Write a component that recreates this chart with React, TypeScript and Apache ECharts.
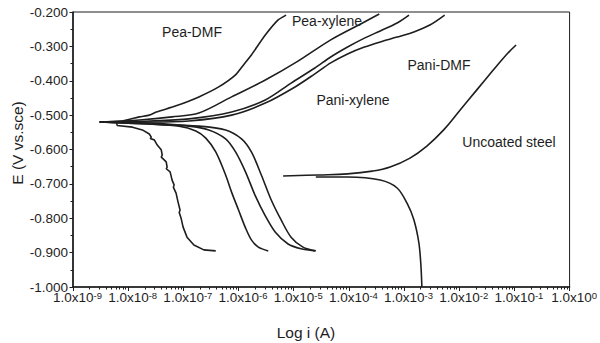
import React, { useEffect, useRef } from "react";
import * as echarts from "echarts";

// log10(i / A) and E (V vs. SCE)
const peaDmfAnodicLogI = [-8.515, -8.1, -7.796, -7.62, -7.491, -7.132, -6.719, -6.359, -6.054, -5.9, -5.767, -5.515, -5.282, -5.138];
const peaDmfAnodicE = [-0.52, -0.517, -0.505, -0.5, -0.491, -0.473, -0.447, -0.418, -0.383, -0.352, -0.325, -0.267, -0.223, -0.209];
const peaDmfCathodicLogI = [-8.515, -8.21, -8.2, -7.922, -7.743, -7.617, -7.581, -7.6, -7.527, -7.473, -7.401, -7.383, -7.4, -7.311, -7.294, -7.31, -7.24, -7.204, -7.168, -7.18, -7.132, -7.096, -7.06, -7.075, -7.042, -7.006, -6.934, -6.809, -6.629, -6.413];
const peaDmfCathodicE = [-0.52, -0.521, -0.53, -0.535, -0.543, -0.555, -0.564, -0.568, -0.572, -0.587, -0.601, -0.616, -0.622, -0.636, -0.651, -0.656, -0.665, -0.689, -0.703, -0.71, -0.727, -0.753, -0.776, -0.783, -0.799, -0.825, -0.855, -0.878, -0.892, -0.895];

const peaXyleneAnodicLogI = [-8.515, -7.796, -7.204, -6.719, -6.126, -5.515, -4.922, -4.329, -3.719, -3.449];
const peaXyleneAnodicE = [-0.52, -0.514, -0.505, -0.494, -0.447, -0.398, -0.343, -0.281, -0.229, -0.206];
const peaXyleneCathodicLogI = [-8.515, -7.617, -7.078, -6.773, -6.593, -6.413, -6.234, -6.126, -6.0, -5.874, -5.767, -5.641, -5.461];
const peaXyleneCathodicE = [-0.52, -0.526, -0.532, -0.546, -0.567, -0.607, -0.674, -0.724, -0.776, -0.828, -0.863, -0.884, -0.895];

const paniXyleneAnodicLogI = [-8.515, -7.617, -6.898, -6.126, -5.515, -5.048, -4.617, -4.329, -4.024, -3.719, -3.431, -3.126, -2.91];
const paniXyleneAnodicE = [-0.52, -0.517, -0.511, -0.491, -0.456, -0.407, -0.363, -0.331, -0.302, -0.276, -0.255, -0.232, -0.209];
const paniXyleneCathodicLogI = [-8.515, -7.617, -6.898, -6.539, -6.234, -6.054, -5.874, -5.695, -5.515, -5.336, -5.102, -4.868, -4.617];
const paniXyleneCathodicE = [-0.52, -0.523, -0.532, -0.543, -0.569, -0.607, -0.665, -0.735, -0.793, -0.84, -0.875, -0.889, -0.895];

const paniDmfAnodicLogI = [-8.515, -7.617, -6.898, -6.126, -5.515, -4.976, -4.617, -4.329, -4.024, -3.719, -3.431, -3.126, -2.821, -2.533, -2.264];
const paniDmfAnodicE = [-0.52, -0.52, -0.517, -0.5, -0.465, -0.418, -0.38, -0.348, -0.322, -0.302, -0.287, -0.273, -0.258, -0.238, -0.209];
const paniDmfCathodicLogI = [-8.515, -7.617, -6.719, -6.234, -5.946, -5.767, -5.587, -5.407, -5.228, -5.048, -4.832, -4.599];
const paniDmfCathodicE = [-0.52, -0.526, -0.532, -0.543, -0.569, -0.607, -0.674, -0.747, -0.805, -0.855, -0.884, -0.895];

const steelAnodicLogI = [-5.192, -4.563, -4.024, -3.575, -3.252, -2.893, -2.587, -2.282, -1.994, -1.689, -1.384, -1.15, -0.97];
const steelAnodicE = [-0.677, -0.674, -0.671, -0.663, -0.651, -0.625, -0.59, -0.543, -0.487, -0.428, -0.369, -0.325, -0.296];
const steelCathodicLogI = [-4.599, -4.024, -3.431, -3.126, -2.946, -2.821, -2.731, -2.695, -2.677];
const steelCathodicE = [-0.68, -0.68, -0.689, -0.712, -0.756, -0.805, -0.872, -0.936, -1.0];

// axis ticks (decades of i)
const xDecades = [-9, -8, -7, -6, -5, -4, -3, -2, -1, 0];
const yMin = -1.0;
const yMax = -0.2;
const yStep = 0.1;

const curveLabels = ["Pea-DMF", "Pea-xylene", "Pani-DMF", "Pani-xylene", "Uncoated steel"];

const INK = "#1e1e1e";
const FONT = "Liberation Sans, Arial, sans-serif";

function zip(xs: number[], ys: number[]) {
  return xs.map((x, i) => [x, ys[i]]);
}

// minor ticks of a log axis: log10(k * 10^n), k = 2..9
const minorTickValues: number[] = [];
for (let d = 0; d < xDecades.length - 1; d++) {
  for (let k = 2; k <= 9; k++) minorTickValues.push(xDecades[d] + Math.log10(k));
}

export default function App() {
  const ref = useRef<HTMLDivElement>(null);
  useEffect(() => {
    if (!ref.current) return;
    const chart = echarts.init(ref.current, null, { renderer: "svg" });
    const branches: [number[], number[], number | false][] = [
      [peaDmfAnodicLogI, peaDmfAnodicE, 0.2],
      [peaDmfCathodicLogI, peaDmfCathodicE, false],
      [peaXyleneAnodicLogI, peaXyleneAnodicE, 0.3],
      [peaXyleneCathodicLogI, peaXyleneCathodicE, 0.3],
      [paniXyleneAnodicLogI, paniXyleneAnodicE, 0.3],
      [paniXyleneCathodicLogI, paniXyleneCathodicE, 0.3],
      [paniDmfAnodicLogI, paniDmfAnodicE, 0.3],
      [paniDmfCathodicLogI, paniDmfCathodicE, 0.3],
      [steelAnodicLogI, steelAnodicE, 0.4],
      [steelCathodicLogI, steelCathodicE, 0.3],
    ];
    const labelPos: [number, number][] = [
      [192, 32],
      [327, 21],
      [439, 65],
      [353, 100],
      [509, 142],
    ];
    chart.setOption({
      animation: false,
      grid: {
        left: 73,
        right: 26,
        top: 12,
        bottom: 56,
        show: true,
        borderColor: INK,
        borderWidth: 1,
        backgroundColor: "transparent",
      },
      xAxis: [
        {
          type: "value",
          min: -9,
          max: 0,
          interval: 1,
          position: "bottom",
          axisLine: { onZero: false, lineStyle: { color: INK, width: 1.6 } },
          axisTick: { show: true, inside: false, length: 4, lineStyle: { color: INK, width: 1 } },
          splitLine: { show: false },
          axisLabel: {
            margin: 3.5,
            padding: [0, 0, 0, 9],
            formatter: (v: number) => `{b|1.0x10}{s|${Math.round(v)}}`,
            rich: {
              b: { fontSize: 13.5, color: INK, fontFamily: FONT, lineHeight: 14 },
              s: { fontSize: 9.5, color: INK, fontFamily: FONT, lineHeight: 6, verticalAlign: "top" },
            },
          },
        },
        {
          type: "value",
          min: -9,
          max: 0,
          position: "bottom",
          axisLine: { show: false },
          axisTick: { show: true, inside: false, length: 2.5, customValues: minorTickValues, lineStyle: { color: INK, width: 1 } },
          axisLabel: { show: false },
          splitLine: { show: false },
        },
      ],
      yAxis: {
        type: "value",
        min: yMin,
        max: yMax,
        interval: yStep,
        axisLine: { show: true, onZero: false, lineStyle: { color: INK, width: 1.6 } },
        axisTick: { show: true, inside: false, length: 3.5, lineStyle: { color: INK, width: 1 } },
        minorTick: { show: true, splitNumber: 2, length: 2.5, lineStyle: { color: INK, width: 1 } },
        splitLine: { show: false },
        axisLabel: {
          margin: 5,
          fontSize: 13.5,
          lineHeight: 9,
          color: INK,
          fontFamily: FONT,
          formatter: (v: number) => v.toFixed(3),
        },
      },
      series: branches.map(([xs, ys, smooth]) => ({
        type: "line",
        xAxisIndex: 0,
        data: zip(xs, ys),
        showSymbol: false,
        symbol: "none",
        smooth: smooth,
        lineStyle: { color: INK, width: 1.6 },
        silent: true,
      })),
      graphic: [
        ...curveLabels.map((t, i) => ({
          type: "text",
          x: labelPos[i][0],
          y: labelPos[i][1],
          style: {
            text: t,
            fontSize: 14,
            fontFamily: FONT,
            fill: INK,
            align: "center",
            verticalAlign: "middle",
          },
        })),
        {
          type: "text",
          x: 306,
          y: 332,
          style: {
            text: "Log i (A)",
            fontSize: 15.5,
            fontFamily: FONT,
            fill: INK,
            align: "center",
            verticalAlign: "middle",
          },
        },
        {
          type: "text",
          x: 17,
          y: 143,
          rotation: Math.PI / 2,
          style: {
            text: "E (V vs.sce)",
            fontSize: 15.5,
            fontFamily: FONT,
            fill: INK,
            align: "center",
            verticalAlign: "middle",
          },
        },
      ],
    });
    return () => chart.dispose();
  }, []);
  return (
    <div
      ref={ref}
      style={{ position: "fixed", left: 0, top: 0, width: 600, height: 343, background: "#fff" }}
    />
  );
}
